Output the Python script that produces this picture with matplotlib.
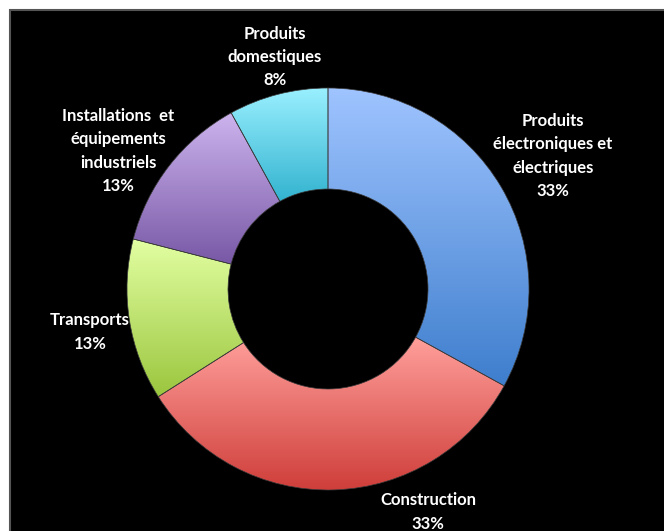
import matplotlib.pyplot as plt
import numpy as np
from matplotlib.colors import to_rgb
from matplotlib.patches import Rectangle

# share of each sector (%), clockwise from the top
sectors = ["Produits\nélectroniques et\nélectriques", "Construction", "Transports",
           "Installations  et\néquipements\nindustriels", "Produits\ndomestiques"]
shares = [33, 33, 13, 13, 8]

# gradient colours: top, bottom
top_colors = ["#9fc4ff", "#ff9f9b", "#e2ffa2", "#cdb4ee", "#9af0ff"]
bottom_colors = ["#3e7ecd", "#cf3e3a", "#9bc63e", "#7858a6", "#33b3d0"]

# label positions in pixels relative to the ring centre
label_pos = [(225, 133), (100, -223), (-238, -43), (-210, 138), (-53, 232)]

plt.rcParams['font.family'] = ['Lato', 'DejaVu Sans']

fig = plt.figure(figsize=(6.64, 5.31), dpi=100, facecolor="white")
bg = Rectangle((9.5, -5), 700, 531 - 9.5 + 5, transform=None, zorder=-10,
               facecolor="black", edgecolor="#555555", linewidth=1.5)
fig.add_artist(bg)

ax = fig.add_axes([0, 0, 1, 1])
ax.patch.set_alpha(0)

cx, cy = 328, 531 - 289
R, r_in = 201, 100

wedges, _ = ax.pie(shares, radius=R, center=(0, 0), startangle=90, counterclock=False,
                   wedgeprops=dict(width=R - r_in, edgecolor="#3a3a3a", linewidth=0.5,
                                   facecolor="none"))

for w, c0, c1 in zip(wedges, top_colors, bottom_colors):
    bb = w.get_path().get_extents()
    t = np.linspace(0, 1, 256)[:, None]
    grad = (1 - t) * np.array(to_rgb(c1)) + t * np.array(to_rgb(c0))
    im = ax.imshow(grad[:, None, :], extent=[bb.x0, bb.x1, bb.y0, bb.y1], origin="lower",
                   aspect="auto", interpolation="bilinear", zorder=1)
    im.set_clip_path(w)
    w.set_zorder(2)

for name, val, (lx, ly) in zip(sectors, shares, label_pos):
    ax.text(lx, ly, f"{name}\n{val}%", color="white", fontsize=12, fontweight="bold",
            ha="center", va="center", linespacing=1.55)

ax.set_xlim(-cx, 664 - cx)
ax.set_ylim(-cy, 531 - cy)
ax.set_aspect("auto")
ax.axis("off")

fig.savefig("out.png", dpi=100, facecolor=fig.get_facecolor())
